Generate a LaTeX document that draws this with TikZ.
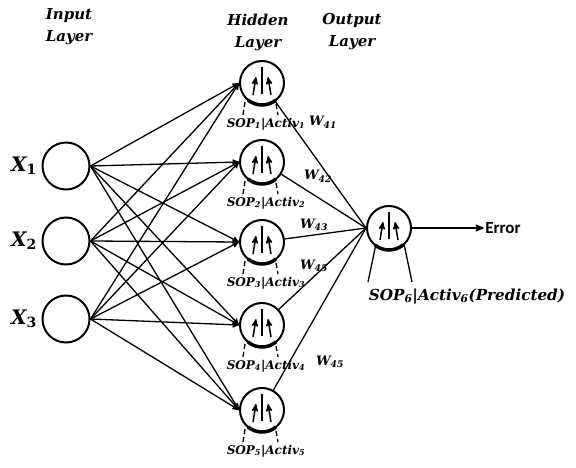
\documentclass[tikz,border=0pt]{standalone}
\usepackage{fontspec}
\setmainfont{DejaVu Serif}
\setsansfont{Carlito}
\usetikzlibrary{arrows,positioning}

\begin{document}
\begin{tikzpicture}[x=1pt,y=-1pt,>=stealth',line width=1.3pt,
  in node/.style={circle,draw,minimum size=47pt,inner sep=0pt,line width=2pt},
  hid node/.style={circle,draw,minimum size=44pt,inner sep=0pt,line width=2pt},
  head/.style={font=\bfseries\itshape\fontsize{15}{22}\selectfont,align=center},
  sop/.style={font=\bfseries\itshape\fontsize{12}{12}\selectfont},
  wt/.style={font=\bfseries\itshape\fontsize{13}{12}\selectfont}]
  \useasboundingbox (0,0) rectangle (576,468);

  \node[head] (inhead) at (69,27) {Input\\Layer};
  \node[head] (hidhead) at (258,32) {Hidden\\Layer};
  \node[head] (outhead) at (352,32) {Output\\Layer};

  % input layer
  \foreach \i/\y in {1/166,2/241,3/319} {
    \node[in node] (x\i) at (66,\y) {};
    \node[font=\bfseries\itshape\fontsize{20}{22}\selectfont] (xl\i) at (24,\y) {X\textsubscript{\upshape\i}};
  }

  % hidden layer
  \foreach \i/\y in {1/83,2/162,3/242,4/325,5/410} {
    \node[hid node] (h\i) at (262,\y) {};
    \node[sop] (s\i) at (266,\y+41) {SOP\textsubscript{\i}|Activ\textsubscript{\i}};
  }

  % output layer
  \node[hid node] (o) at (389,228) {};
  \node[font=\bfseries\itshape\fontsize{15.2}{18}\selectfont] (so) at (467,296)
    {SOP\textsubscript{6}|Activ\textsubscript{6}(Predicted)};
  \node[font=\sffamily\bfseries\fontsize{17}{16}\selectfont,inner sep=1pt] (err) at (503,228) {Error};

  \foreach \i in {1,2,3}
    \foreach \j in {1,...,5}
      \draw[->] (x\i.east) -- (h\j.west);

  \foreach \j in {1,...,5}
    \draw (h\j) -- (o.west);
  \draw[->,line width=1.8pt] (o.east) -- (err.west);

  % neuron glyphs
  \foreach \n in {h1,h2,h3,h4,h5,o} {
    \begin{scope}[shift={(\n.center)}]
      \draw[line width=1.8pt] (0,-16) -- (0,11);
      \draw[->,line width=1.5pt] (-9,12) -- (-6,-6);
      \draw[->,line width=1.5pt] (9,12) -- (6,-6);
      \draw[line width=3.5pt] (130:22) arc[start angle=130,end angle=50,radius=22];
    \end{scope}
  }
  \foreach \i in {1,...,5} {
    \draw[dashed,dash pattern=on 5pt off 3pt] ([shift={(-17,19)}]h\i.center) -- ([shift={(-19,32)}]h\i.center);
    \draw[dashed,dash pattern=on 5pt off 3pt] ([shift={(14,21)}]h\i.center) -- ([shift={(16,32)}]h\i.center);
  }
  \draw ([shift={(-13,16)}]o.center) -- ([shift={(-21,54)}]o.center);
  \draw ([shift={(15,16)}]o.center) -- ([shift={(23,54)}]o.center);

  \node[wt] (w1) at (323,122) {W\textsubscript{41}};
  \node[wt] (w2) at (318,176) {W\textsubscript{42}};
  \node[wt] (w3) at (314,225) {W\textsubscript{43}};
  \node[wt] (w4) at (314,266) {W\textsubscript{45}};
  \node[wt] (w5) at (330,362) {W\textsubscript{45}};
\end{tikzpicture}
\end{document}
